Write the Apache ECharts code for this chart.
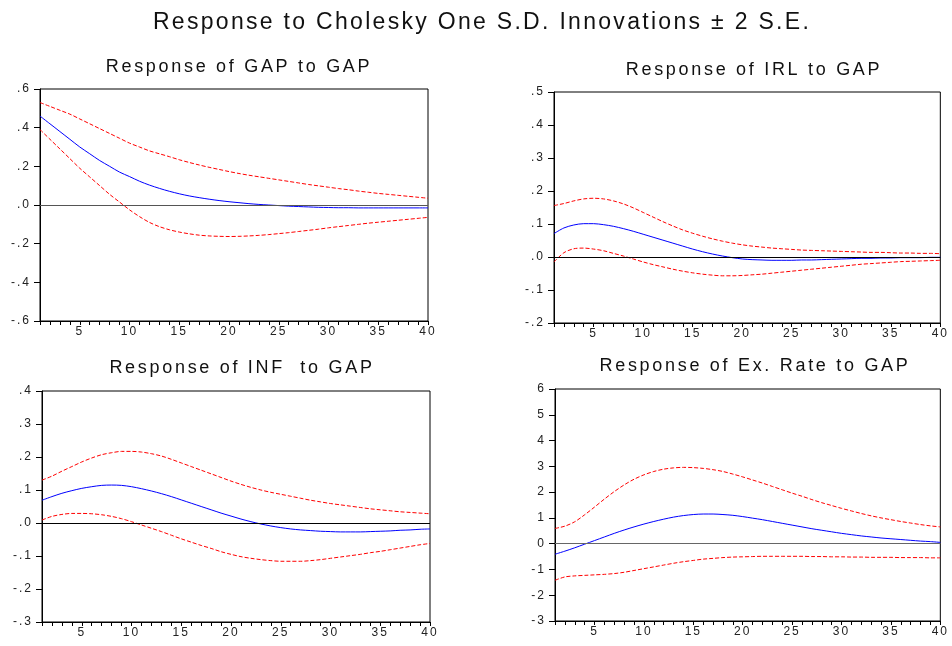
<!DOCTYPE html>
<html>
<head>
<meta charset="utf-8">
<script src="https://cdn.jsdelivr.net/npm/echarts@6/dist/echarts.min.js"></script>
<style>html,body{margin:0;padding:0;background:#fff}#c{width:952px;height:646px}</style>
</head>
<body>
<div id="c"></div>
<script>
// Emulate the wide letter spacing of the original (EViews) text rendering
(function(){
  var proto = window.CanvasRenderingContext2D && CanvasRenderingContext2D.prototype;
  if (!proto) return;
  var desc = Object.getOwnPropertyDescriptor(proto, 'font');
  if (!desc || !desc.set || !('letterSpacing' in proto)) return;
  Object.defineProperty(proto, 'font', {
    configurable:true,
    get: desc.get,
    set: function(v){
      desc.set.call(this, v);
      var m = /(\d+(?:\.\d+)?)px/.exec(String(v));
      var size = m ? parseFloat(m[1]) : 12;
      var sp = size >= 20 ? 2.3 : (size >= 15 ? 2.7 : 2.0);
      this.letterSpacing = sp + 'px';
    }
  });
})();

var periods = [];
for (var i = 1; i <= 40; i++) periods.push(String(i));

var mainTitle = "Response to Cholesky One S.D. Innovations \u00b1 2 S.E.";
var panelTitles = ["Response of GAP to GAP", "Response of IRL to GAP", "Response of INF  to GAP", "Response of Ex. Rate to GAP"];

// Panel 1: GAP to GAP
var gapResp = [0.46,0.42,0.38,0.34,0.30,0.265,0.23,0.20,0.17,0.147,0.123,0.103,0.086,0.071,0.058,0.047,0.038,0.030,0.023,0.017,0.012,0.007,0.003,0.000,-0.003,-0.006,-0.008,-0.010,-0.012,-0.013,-0.014,-0.014,-0.015,-0.015,-0.015,-0.015,-0.015,-0.015,-0.015,-0.015];
var gapUpper = [0.53,0.51,0.49,0.47,0.445,0.42,0.395,0.37,0.345,0.32,0.30,0.28,0.265,0.25,0.234,0.22,0.207,0.195,0.184,0.173,0.163,0.154,0.146,0.138,0.13,0.122,0.114,0.106,0.099,0.092,0.085,0.079,0.072,0.066,0.06,0.055,0.050,0.045,0.040,0.035];
var gapLower = [0.39,0.34,0.29,0.24,0.19,0.145,0.10,0.055,0.015,-0.025,-0.06,-0.09,-0.112,-0.128,-0.14,-0.149,-0.156,-0.160,-0.162,-0.163,-0.162,-0.160,-0.157,-0.153,-0.148,-0.143,-0.137,-0.131,-0.125,-0.118,-0.112,-0.106,-0.100,-0.094,-0.089,-0.084,-0.079,-0.074,-0.069,-0.064];

// Panel 2: IRL to GAP
var irlResp = [0.071,0.088,0.097,0.101,0.101,0.098,0.093,0.086,0.078,0.069,0.060,0.051,0.042,0.033,0.024,0.016,0.009,0.003,-0.002,-0.006,-0.008,-0.009,-0.010,-0.010,-0.010,-0.009,-0.009,-0.008,-0.007,-0.006,-0.005,-0.004,-0.004,-0.003,-0.003,-0.002,-0.002,-0.002,-0.001,-0.001];
var irlUpper = [0.156,0.162,0.170,0.176,0.178,0.176,0.170,0.161,0.149,0.135,0.121,0.107,0.094,0.082,0.072,0.063,0.055,0.048,0.042,0.037,0.033,0.030,0.027,0.025,0.023,0.021,0.020,0.019,0.018,0.017,0.016,0.015,0.014,0.014,0.013,0.012,0.012,0.011,0.011,0.010];
var irlLower = [-0.015,0.013,0.025,0.027,0.024,0.019,0.011,0.003,-0.006,-0.015,-0.023,-0.030,-0.037,-0.043,-0.048,-0.052,-0.055,-0.057,-0.057,-0.056,-0.054,-0.052,-0.049,-0.046,-0.043,-0.040,-0.037,-0.034,-0.031,-0.028,-0.025,-0.022,-0.020,-0.018,-0.016,-0.014,-0.013,-0.012,-0.011,-0.010];

// Panel 3: INF to GAP
var infResp = [0.069,0.080,0.090,0.098,0.105,0.110,0.114,0.115,0.114,0.110,0.104,0.097,0.089,0.080,0.070,0.060,0.050,0.040,0.030,0.021,0.012,0.004,-0.003,-0.009,-0.014,-0.018,-0.021,-0.023,-0.025,-0.026,-0.027,-0.027,-0.027,-0.026,-0.025,-0.024,-0.022,-0.021,-0.019,-0.018];
var infUpper = [0.130,0.142,0.157,0.171,0.185,0.197,0.207,0.213,0.217,0.217,0.215,0.210,0.203,0.193,0.182,0.171,0.160,0.149,0.138,0.127,0.117,0.108,0.100,0.093,0.087,0.081,0.075,0.069,0.064,0.059,0.055,0.051,0.047,0.043,0.040,0.037,0.034,0.032,0.030,0.028];
var infLower = [0.009,0.020,0.026,0.029,0.029,0.028,0.025,0.020,0.013,0.004,-0.006,-0.016,-0.026,-0.037,-0.048,-0.058,-0.068,-0.077,-0.087,-0.095,-0.102,-0.107,-0.111,-0.114,-0.116,-0.116,-0.116,-0.114,-0.111,-0.107,-0.103,-0.099,-0.095,-0.090,-0.086,-0.081,-0.076,-0.071,-0.066,-0.062];

// Panel 4: Ex. Rate to GAP
var exrResp = [-0.41,-0.29,-0.16,-0.02,0.12,0.26,0.40,0.53,0.65,0.76,0.86,0.95,1.03,1.09,1.13,1.15,1.15,1.13,1.10,1.05,0.99,0.93,0.86,0.79,0.72,0.65,0.58,0.52,0.46,0.40,0.35,0.30,0.26,0.22,0.19,0.16,0.13,0.10,0.08,0.05];
var exrUpper = [0.59,0.68,0.85,1.12,1.42,1.73,2.02,2.28,2.50,2.67,2.80,2.89,2.94,2.96,2.95,2.92,2.87,2.80,2.70,2.59,2.47,2.35,2.22,2.09,1.96,1.84,1.71,1.59,1.48,1.37,1.27,1.17,1.08,1.00,0.93,0.86,0.80,0.74,0.69,0.65];
var exrLower = [-1.42,-1.29,-1.25,-1.23,-1.21,-1.19,-1.16,-1.11,-1.04,-0.97,-0.90,-0.83,-0.76,-0.70,-0.65,-0.60,-0.57,-0.54,-0.52,-0.51,-0.50,-0.49,-0.49,-0.49,-0.49,-0.49,-0.50,-0.50,-0.51,-0.51,-0.52,-0.52,-0.53,-0.53,-0.53,-0.54,-0.54,-0.54,-0.55,-0.55];

var yRanges = [[-0.6,0.6,0.2],[-0.2,0.5,0.1],[-0.3,0.4,0.1],[-3,6,1]];

var FONT = '"Liberation Sans", Arial, sans-serif';
var grids = [
  {left:40, top:89, width:388, height:232},
  {left:554, top:92, width:389, height:231},
  {left:42, top:391, width:388, height:231},
  {left:555, top:389, width:388, height:232}
];
var panels = [
  [gapResp, gapUpper, gapLower],
  [irlResp, irlUpper, irlLower],
  [infResp, infUpper, infLower],
  [exrResp, exrUpper, exrLower]
];
var zeroColors = ['#555', '#000', '#000', '#666'];

function decFmt(v){
  var s = v.toFixed(1);
  return s.replace('0.', '.');
}
function intFmt(v){ return String(Math.round(v)); }

var titleStyle = function(size){ return {fontFamily:FONT, fontSize:size, fontWeight:'normal', color:'#111'}; };

var option = {
  animation:false,
  backgroundColor:'#fff',
  title:[
    {text:mainTitle, left:477, top:5, textAlign:'center', textStyle:titleStyle(23)},
    {text:panelTitles[0], left:234, top:52, textAlign:'center', textStyle:titleStyle(18)},
    {text:panelTitles[1], left:749, top:55, textAlign:'center', textStyle:titleStyle(18)},
    {text:panelTitles[2], left:237, top:353, textAlign:'center', textStyle:titleStyle(18)},
    {text:panelTitles[3], left:750, top:351, textAlign:'center', textStyle:titleStyle(18)}
  ],
  grid: grids.map(function(g){ return Object.assign({show:true, borderColor:'#000', borderWidth:1, backgroundColor:'transparent'}, g); }),
  xAxis: grids.map(function(g, i){
    return {
      type:'category', gridIndex:i, data:periods, boundaryGap:false,
      axisLine:{show:true, onZero:false, lineStyle:{color:'#000', width:1}},
      axisTick:{show:true, interval:0, length:4, inside:false, lineStyle:{color:'#000'}},
      axisLabel:{interval:function(idx, v){ return (+v) % 5 === 0; }, color:'#222', fontFamily:FONT, fontSize:12, margin:4},
      splitLine:{show:false}
    };
  }),
  yAxis: yRanges.map(function(r, i){
    return {
      type:'value', gridIndex:i, min:r[0], max:r[1], interval:r[2],
      axisLine:{show:true, onZero:false, lineStyle:{color:'#000', width:1}},
      axisTick:{show:true, length:6, inside:false, lineStyle:{color:'#000'}},
      axisLabel:{formatter: i === 3 ? intFmt : decFmt, color:'#222', fontFamily:FONT, fontSize:12, margin:9},
      splitLine:{show:false}
    };
  }),
  series: []
};

panels.forEach(function(p, i){
  option.series.push({
    type:'line', xAxisIndex:i, yAxisIndex:i, data:p[0], showSymbol:false, smooth:0.3, silent:true,
    lineStyle:{color:'#0000ff', width:1},
    markLine:{silent:true, symbol:'none', label:{show:false}, lineStyle:{color:zeroColors[i], width:1, type:'solid'}, data:[{yAxis:0}]},
    z:3
  });
  option.series.push({
    type:'line', xAxisIndex:i, yAxisIndex:i, data:p[1], showSymbol:false, smooth:0.3, silent:true,
    lineStyle:{color:'#ff0000', width:1, type:[4,2]}, z:2
  });
  option.series.push({
    type:'line', xAxisIndex:i, yAxisIndex:i, data:p[2], showSymbol:false, smooth:0.3, silent:true,
    lineStyle:{color:'#ff0000', width:1, type:[4,2]}, z:2
  });
});

var chart = echarts.init(document.getElementById('c'), null, {renderer:'canvas'});
chart.setOption(option);
</script>
</body>
</html>
